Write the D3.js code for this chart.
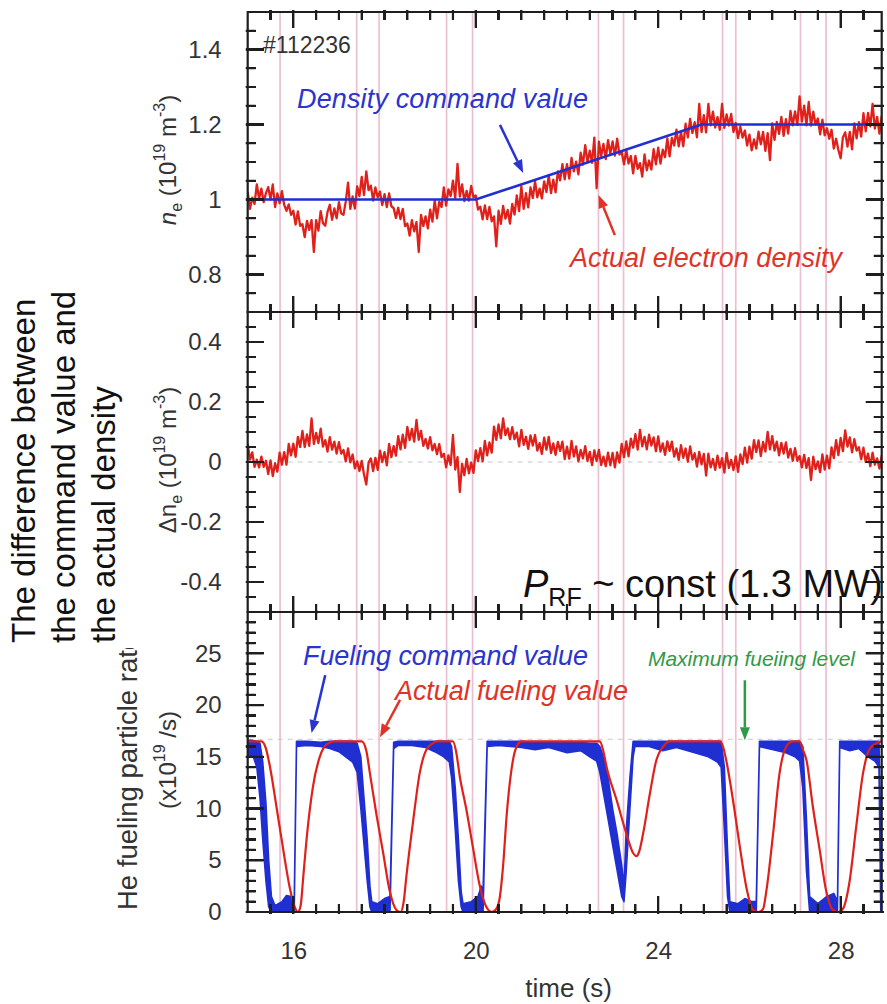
<!DOCTYPE html>
<html><head><meta charset="utf-8">
<script src="https://cdn.jsdelivr.net/npm/d3@7"></script>
<style>
body{margin:0;background:#fff}
#wrap{position:relative;width:887px;height:1004px}
svg{display:block;position:absolute;left:0;top:0}
.tk{position:absolute;background:#1e1e1e}
text{font-family:"Liberation Sans",Arial,Helvetica,sans-serif}
</style>
</head><body>
<div id="wrap"><svg id="c" width="887" height="1004" xmlns="http://www.w3.org/2000/svg"></svg></div>
<script>
// ---------------- data ----------------
const T0 = 15, DT = 0.05;            // sampling of the noisy traces (s)
// actual electron density n_e (1e19 m^-3), 15.00 .. 28.95 s
const neActual = [
 1.02,0.975,1.005,0.988,1.04,1.002,1.029,0.993,1.017,1.033,1.0,1.04,0.98,1.016,0.99,1.022,0.986,0.97,0.987,0.959,
 0.97,0.933,0.968,0.93,0.934,0.9,0.943,0.919,0.945,0.86,0.945,0.917,0.969,0.937,0.93,0.967,0.986,0.946,0.976,0.95,
 0.993,0.963,0.959,0.995,1.045,0.975,1.008,0.976,1.035,1.009,1.06,1.012,1.075,1.025,1.037,0.997,1.032,1.006,1.021,0.985,
 1.014,0.98,1.016,0.982,0.977,0.951,0.978,0.948,0.975,0.929,0.936,0.904,0.945,0.915,0.94,0.86,0.959,0.929,0.955,0.923,
 0.973,0.941,0.998,0.95,0.994,0.98,1.032,0.984,1.027,1.009,1.05,1.004,1.095,1.008,1.04,0.996,1.023,0.997,1.036,1.006,
 1.011,0.973,0.981,0.947,0.984,0.948,0.98,0.942,0.955,0.875,0.97,0.935,0.983,0.949,0.972,0.936,0.988,0.96,1.011,0.969,
 1.035,0.975,1.017,0.979,1.032,1.004,1.048,1.006,1.029,1.003,1.048,1.02,1.065,1.017,1.053,1.019,1.075,1.051,1.094,1.054,
 1.094,1.056,1.111,1.075,1.101,1.067,1.125,1.093,1.145,1.099,1.13,1.098,1.165,1.03,1.154,1.116,1.148,1.108,1.158,1.122,
 1.155,1.117,1.162,1.12,1.126,1.094,1.132,1.096,1.116,1.07,1.116,1.082,1.097,1.061,1.12,1.078,1.104,1.08,1.134,1.094,
 1.138,1.096,1.133,1.113,1.163,1.115,1.164,1.144,1.186,1.142,1.18,1.142,1.202,1.166,1.215,1.177,1.206,1.166,1.255,1.18,
 1.225,1.179,1.255,1.198,1.234,1.192,1.22,1.186,1.255,1.191,1.227,1.197,1.228,1.18,1.204,1.164,1.195,1.165,1.184,1.144,
 1.173,1.131,1.16,1.136,1.181,1.147,1.18,1.13,1.177,1.105,1.203,1.159,1.207,1.175,1.22,1.17,1.214,1.176,1.236,1.198,
 1.235,1.199,1.275,1.208,1.25,1.198,1.26,1.197,1.234,1.2,1.216,1.174,1.213,1.171,1.19,1.162,1.186,1.136,1.162,1.132,
 1.11,1.166,1.179,1.141,1.18,1.134,1.203,1.163,1.206,1.168,1.23,1.182,1.231,1.195,1.255,1.189,1.22,1.176,1.222,1.186
];
// density command value
const neCmdT = [15, 20.0, 24.95, 28.9];
const neCmdV = [1.0, 1.0, 1.2, 1.2];
// difference command - actual, 15.00 .. 28.95 s
const dneActual = [
 0.06,0.008,0.032,-0.016,0.008,-0.018,0.018,-0.016,0.004,-0.04,0.005,-0.047,-0.004,-0.032,0.031,-0.009,0.033,-0.009,0.06,0.022,
 0.061,0.017,0.084,0.05,0.104,0.05,0.092,0.054,0.145,0.06,0.097,0.063,0.111,0.051,0.073,0.035,0.083,0.041,0.068,0.028,
 0.066,0.028,0.04,0.002,0.045,-0.001,0.025,-0.021,0.002,-0.03,0.004,-0.042,-0.075,-0.002,0.012,-0.03,0.014,-0.026,0.038,0.0,
 0.033,-0.011,0.06,0.016,0.053,0.021,0.086,0.042,0.091,0.047,0.117,0.073,0.11,0.068,0.14,0.074,0.104,0.054,0.077,0.045,
 0.083,0.039,0.06,0.026,0.06,0.016,0.028,-0.018,0.022,-0.01,0.09,-0.025,0.016,-0.1,-0.006,-0.044,0.01,-0.038,-0.002,-0.036,
 0.039,0.003,0.046,0.002,0.07,0.022,0.065,0.031,0.118,0.074,0.125,0.079,0.145,0.09,0.112,0.076,0.116,0.076,0.098,0.052,
 0.107,0.057,0.084,0.044,0.089,0.055,0.09,0.038,0.063,0.027,0.081,0.041,0.084,0.03,0.062,0.024,0.067,0.037,0.068,0.01,
 0.051,0.011,0.07,0.018,0.052,0.002,0.04,0.012,0.053,0.003,0.034,-0.01,0.039,0.003,0.04,-0.01,0.018,-0.014,0.031,-0.011,
 0.03,-0.018,0.032,-0.002,0.06,0.016,0.069,0.019,0.078,0.048,0.093,0.041,0.107,0.052,0.084,0.042,0.091,0.055,0.082,0.036,
 0.085,0.035,0.062,0.024,0.069,0.037,0.068,0.018,0.045,0.007,0.056,0.014,0.045,0.001,0.052,0.008,0.029,-0.015,0.034,-0.008,
 0.027,-0.045,0.028,-0.018,0.01,-0.026,0.021,-0.019,0.013,-0.035,0.03,-0.02,0.007,-0.027,0.019,-0.033,0.025,-0.007,0.048,-0.002,
 0.051,0.011,0.073,0.033,0.072,0.02,0.067,0.035,0.1,0.042,0.086,0.038,0.068,0.022,0.064,0.028,0.065,0.015,0.044,0.004,
 0.046,0.004,0.02,-0.018,0.024,-0.02,0.013,-0.06,0.018,-0.024,0.002,-0.034,0.025,-0.025,0.021,-0.021,0.049,0.013,0.073,0.023,
 0.08,0.036,0.105,0.051,0.082,0.032,0.076,0.038,0.049,0.009,0.048,0.0,0.028,-0.014,0.031,-0.009,0.012,-0.022,0.02,-0.055
];
// fueling command value (x1e19 /s): time, lower and upper edge of the noisy trace
const fuelCmdT  = [15.00,15.10,15.20,15.27,15.33,15.40,15.46,15.52,15.60,15.75,15.85,15.95,16.02,16.07,16.30,16.60,16.80,17.00,17.15,17.30,17.40,17.48,17.55,17.62,17.68,17.72,17.85,18.00,18.12,18.20,18.30,18.60,18.90,19.10,19.30,19.42,19.47,19.55,19.62,19.68,19.72,19.90,20.05,20.12,20.16,20.25,20.50,21.00,21.30,21.60,22.00,22.30,22.50,22.65,22.72,22.80,22.90,23.00,23.10,23.20,23.25,23.30,23.38,23.45,23.49,23.80,24.10,24.40,24.80,25.10,25.30,25.38,25.45,25.52,25.57,25.75,25.90,26.05,26.15,26.22,26.50,26.80,27.00,27.10,27.17,27.25,27.32,27.50,27.70,27.85,27.93,27.98,28.20,28.40,28.60,28.75,28.84,28.88,28.90];
const fuelCmdLo = [15.0,15.3,14.0,11.0,7.0,3.0,0.5,0,0,0,0,0,0,16.0,16.1,16.0,15.8,15.5,15.0,14.5,13.5,10.0,6.5,3.0,0.5,0,0,0,0,15.8,16.1,16.1,15.9,15.5,15.0,14.5,13.0,8.0,3.0,0.5,0,0,0,0,0,16.0,16.1,15.9,15.7,15.9,15.4,15.6,15.0,14.6,13.5,11.5,9.0,6.5,4.0,1.5,1.0,4.0,10.0,15.0,16.0,16.0,15.6,15.9,15.4,15.0,14.5,14.0,8.0,1.5,0,0,0,0,0,16.0,15.7,15.4,15.0,14.6,12.0,4.0,0,0,0,0,0,15.9,15.6,15.8,15.0,14.6,14.0,0,0];
const fuelCmdHi = [16.6,16.6,16.5,16.3,14.5,10.5,5.0,1.5,0.6,1.0,1.6,1.5,1.0,16.5,16.5,16.4,16.5,16.5,16.5,16.5,16.3,15.0,11.0,7.0,2.5,1.0,0.8,1.3,1.5,16.4,16.5,16.5,16.5,16.5,16.5,16.5,16.0,12.0,7.0,2.0,0.8,1.0,1.5,2.5,2.0,16.5,16.5,16.5,16.4,16.4,16.4,16.4,16.3,16.3,16.0,15.0,13.0,10.0,7.5,4.5,2.5,8.0,13.0,16.5,16.5,16.5,16.5,16.5,16.5,16.5,16.5,16.5,14.0,6.0,1.0,0.8,1.3,1.0,1.0,16.5,16.5,16.5,16.5,16.5,16.0,9.0,1.5,0.8,1.5,1.8,1.0,16.5,16.5,16.5,16.5,16.5,16.5,8.0,1.0];
// actual fueling value
const fuelActT = [15.00,15.30,15.40,15.49,15.63,15.78,15.92,16.03,16.10,16.16,16.22,16.29,16.43,16.58,16.73,16.90,17.50,17.60,17.68,17.82,17.97,18.11,18.26,18.35,18.42,18.48,18.63,18.77,18.92,19.06,19.15,19.50,19.57,19.65,19.79,19.94,20.08,20.23,20.35,20.45,20.53,20.60,20.68,20.76,20.83,20.92,21.00,22.72,22.80,22.87,23.09,23.30,23.45,23.52,23.58,23.67,23.82,23.96,24.11,24.25,25.35,25.42,25.49,25.64,25.79,25.93,26.08,26.20,26.30,26.37,26.52,26.66,26.81,26.95,27.10,27.18,27.25,27.39,27.54,27.68,27.83,27.95,28.05,28.19,28.34,28.49,28.63,28.78,28.90];
const fuelActV = [16.5,16.5,15.8,14.0,10.2,6.0,2.4,0.5,0.0,0.6,3.5,7.0,12.1,15.0,16.2,16.5,16.5,15.6,13.4,9.5,5.7,2.1,0.2,0.0,1.0,3.5,8.9,13.4,15.7,16.3,16.5,16.5,15.5,13.1,10.0,6.2,2.7,0.5,0.0,0.3,1.5,4.5,9.5,13.0,15.0,16.2,16.5,16.5,15.5,14.0,10.8,7.6,5.7,5.4,5.8,7.6,11.5,14.7,16.0,16.5,16.5,16.0,14.7,10.8,6.3,2.45,0.2,0.0,0.3,2.0,7.6,13.4,16.0,16.5,16.5,15.6,14.7,10.2,6.0,2.1,0.2,0.0,0.3,2.8,8.2,13.4,15.7,16.3,16.5];
const maxFuel = 16.7;
// RF timing marks (s)
const rfTimes = [15.71,17.39,17.88,19.36,19.93,22.69,23.24,25.41,25.70,27.12,27.68];
// ticks
const xMajor = [16,20,24,28];
const topMajor = [0.8,1,1.2,1.4];
const midMajor = [-0.4,-0.2,0,0.2,0.4];
const botMajor = [0,5,10,15,20,25];

// ---------------- layout ----------------
const svg = d3.select("#c");
const L = 247.7, R = 881.7;
const P = [{t:12,b:312},{t:312,b:612},{t:612,b:912}];
const x = d3.scaleLinear().domain([15, 28.9]).range([L, R]);
const yTop = d3.scaleLinear().domain([0.7, 1.5]).range([P[0].b, P[0].t]);
const yMid = d3.scaleLinear().domain([-0.5, 0.5]).range([P[1].b, P[1].t]);
const yBot = d3.scaleLinear().domain([0, 29]).range([P[2].b, P[2].t]);

const RED = "#e0201a", BLUE = "#1f2fd2", TBLUE = "#2a34cf", TRED = "#e03328", GREEN = "#2f9a45", PINK = "#edbfd2";
const AX = "#1e1e1e";

const defs = svg.append("defs");
P.forEach((p,i)=>{
  defs.append("clipPath").attr("id","clip"+i).append("rect")
    .attr("x",L).attr("y",p.t).attr("width",R-L).attr("height",p.b-p.t);
});

// RF marks
svg.append("g").selectAll("line").data(rfTimes).join("line")
  .attr("x1",d=>x(d)).attr("x2",d=>x(d)).attr("y1",P[0].t).attr("y2",P[2].b)
  .attr("stroke",PINK).attr("stroke-width",1.7);

// reference dashed lines
svg.append("line").attr("x1",L).attr("x2",R).attr("y1",yMid(0)).attr("y2",yMid(0))
  .attr("stroke","#c8c8c8").attr("stroke-width",1).attr("stroke-dasharray","5,5");
svg.append("line").attr("x1",L).attr("x2",R).attr("y1",yBot(maxFuel)).attr("y2",yBot(maxFuel))
  .attr("stroke","#c8c8c8").attr("stroke-width",1).attr("stroke-dasharray","5,5");

// top panel data
svg.append("path").attr("clip-path","url(#clip0)")
  .attr("d", d3.line().x((d,i)=>x(T0+i*DT)).y(d=>yTop(d))(neActual))
  .attr("fill","none").attr("stroke",RED).attr("stroke-width",2.3).attr("stroke-linejoin","round");
svg.append("path").attr("clip-path","url(#clip0)")
  .attr("d", d3.line().x(d=>x(d[0])).y(d=>yTop(d[1]))(neCmdT.map((t,i)=>[t,neCmdV[i]])))
  .attr("fill","none").attr("stroke",BLUE).attr("stroke-width",2.6);

// middle panel data
svg.append("path").attr("clip-path","url(#clip1)")
  .attr("d", d3.line().x((d,i)=>x(T0+i*DT)).y(d=>yMid(d))(dneActual))
  .attr("fill","none").attr("stroke",RED).attr("stroke-width",2.3).attr("stroke-linejoin","round");

// bottom panel data
const cmd = fuelCmdT.map((t,i)=>({t, lo:fuelCmdLo[i], hi:fuelCmdHi[i]}));
svg.append("path").attr("clip-path","url(#clip2)")
  .attr("d", d3.area().x(d=>x(d.t)).y0(d=>yBot(d.lo)).y1(d=>yBot(d.hi))(cmd))
  .attr("fill",BLUE).attr("stroke",BLUE).attr("stroke-width",1.6).attr("stroke-linejoin","round");
svg.append("path").attr("clip-path","url(#clip2)")
  .attr("d", d3.line().curve(d3.curveMonotoneX).x(d=>x(d[0])).y(d=>yBot(d[1]))(fuelActT.map((t,i)=>[t,fuelActV[i]])))
  .attr("fill","none").attr("stroke",RED).attr("stroke-width",2.2);

// ---------------- axes: frame + ticks ----------------
function minorVals(lo, hi, step, majors){
  return d3.range(Math.round(lo/step), Math.round(hi/step)+1).map(k=>+(k*step).toFixed(4))
    .filter(v=>v>lo+1e-9 && v<hi-1e-9 && !majors.some(m=>Math.abs(m-v)<1e-6));
}
const xMinor = minorVals(15, 28.9, 0.5, xMajor);
const yDefs = [
  {y:yTop, maj:topMajor, min:minorVals(0.7,1.5,0.05,topMajor), fmt:d=>d===1?"1":d.toFixed(1)},
  {y:yMid, maj:midMajor, min:minorVals(-0.5,0.5,0.05,midMajor), fmt:d=>d===0?"0":d.toFixed(1)},
  {y:yBot, maj:botMajor, min:minorVals(0,29,1,botMajor), fmt:d=>String(d)}
];
const TW = 2.2;
const tickBoxes = [];
P.forEach((p,i)=>{
  const Y = yDefs[i];
  const pth = d3.path();
  pth.rect(L, p.t, R-L, p.b-p.t);
  [[Y.maj,16],[Y.min,8]].forEach(([vals,len])=>vals.forEach(v=>{
    const yy = Y.y(v);
    pth.moveTo(L-2, yy); pth.lineTo(L+len, yy);
    pth.moveTo(R+2, yy); pth.lineTo(R-len, yy);
    tickBoxes.push({l:L-2, t:yy-TW/2, w:len+2, h:TW});
    tickBoxes.push({l:R-len, t:yy-TW/2, w:len+2, h:TW});
  }));
  [[xMajor,16],[xMinor,8]].forEach(([vals,len])=>vals.forEach(v=>{
    const xx = x(v);
    pth.moveTo(xx, p.t-2); pth.lineTo(xx, p.t+len);
    pth.moveTo(xx, p.b+2); pth.lineTo(xx, p.b-len);
    tickBoxes.push({l:xx-TW/2, t:p.t-2, w:TW, h:len+2});
    tickBoxes.push({l:xx-TW/2, t:p.b-len, w:TW, h:len+2});
  }));
  svg.append("path").attr("class","frame").attr("d", pth.toString())
    .attr("fill","none").attr("stroke",AX).attr("stroke-width",2.2);
  const ga = svg.append("g").attr("transform",`translate(${L},0)`)
    .call(d3.axisLeft(Y.y).tickValues(Y.maj).tickSize(0).tickPadding(26).tickFormat(Y.fmt));
  ga.select(".domain").remove();
  ga.selectAll("text").attr("font-size",24).attr("fill","#333").attr("font-family","Liberation Sans, Arial, sans-serif");
});
const gx = svg.append("g").attr("transform",`translate(0,${P[2].b})`)
  .call(d3.axisBottom(x).tickValues(xMajor).tickSize(0).tickPadding(30).tickFormat(d=>String(d)));
gx.select(".domain").remove();
gx.selectAll("text").attr("font-size",24).attr("fill","#333").attr("font-family","Liberation Sans, Arial, sans-serif");

// x label
svg.append("text").attr("x",(L+R)/2+4).attr("y",997).attr("text-anchor","middle")
  .attr("font-size",26).attr("fill","#333").text("time (s)");

// y labels
function ylab(cx, cy, parts, fs, anchor){
  const t = svg.append("text").attr("transform",`translate(${cx},${cy}) rotate(-90)`)
    .attr("text-anchor",anchor||"middle").attr("font-size",fs).attr("fill","#333");
  parts.forEach(p=>{
    const s = t.append("tspan").text(p.s);
    if(p.it) s.attr("font-style","italic");
    if(p.fs) s.attr("font-size",p.fs);
    if(p.dy) s.attr("dy",p.dy);
  });
}
ylab(176,160,[{s:"n",it:1},{s:"e",fs:16,dy:6},{s:" (10",dy:-6},{s:"19",fs:16,dy:-11},{s:"  m",dy:11},{s:"-3",fs:16,dy:-11},{s:")",dy:11}], 24);
ylab(176,460,[{s:"\u0394n"},{s:"e",fs:16,dy:6},{s:" (10",dy:-6},{s:"19",fs:16,dy:-11},{s:"  m",dy:11},{s:"-3",fs:16,dy:-11},{s:")",dy:11}], 24);
ylab(137,910,[{s:"He fueling particle rate"}], 27.5, "start");
ylab(176,760,[{s:"(x10"},{s:"19",fs:16,dy:-11},{s:" /s)",dy:11}], 24);

// overlay annotation box (left)
svg.append("rect").attr("x",0).attr("y",285).attr("width",142).attr("height",363).attr("fill","#fff");
const ov = [{s:"The difference between",bx:35},{s:"the command value and",bx:75},{s:"the actual density",bx:115}];
ov.forEach(o=>{
  svg.append("text").attr("transform",`translate(${o.bx},643) rotate(-90)`)
    .attr("font-size",33).attr("fill","#111").text(o.s);
});

// annotations
function note(txt, xx, yy, color, fs, len){
  const t = svg.append("text").attr("x",xx).attr("y",yy).attr("fill",color)
    .attr("font-size",fs).attr("font-style","italic").text(txt);
  if(len) t.attr("textLength",len);
  return t;
}
note("Density command value", 297, 108, TBLUE, 27, 291);
note("Actual electron density", 570, 267, TRED, 27, 272);
note("Fueling command value", 303, 665, TBLUE, 27, 285);
note("Actual fueling value", 395, 700, TRED, 27, 233);
note("Maximum fueiing level", 648, 666, GREEN, 21, 207);
svg.append("text").attr("x",263).attr("y",53).attr("font-size",23).attr("fill","#333").text("#112236");

// P_RF text
const prf = svg.append("text").attr("x",523).attr("y",597).attr("font-size",38)
  .attr("font-family","Open Sans, Noto Sans, sans-serif").attr("fill","#111");
prf.append("tspan").attr("font-style","italic").text("P");
prf.append("tspan").attr("font-size",25).attr("dy",9).text("RF");
prf.append("tspan").attr("dy",-9).text(" ~ const (1.3 MW)");

// arrows (data coordinates)
function arrow(ys, t1, v1, t2, v2, color){
  const x1=x(t1), y1=ys(v1), x2=x(t2), y2=ys(v2);
  const ang = Math.atan2(y2-y1, x2-x1), hl=13, hw=5;
  const bx = x2 - hl*Math.cos(ang), by = y2 - hl*Math.sin(ang);
  svg.append("line").attr("x1",x1).attr("y1",y1).attr("x2",bx).attr("y2",by)
    .attr("stroke",color).attr("stroke-width",2.5);
  svg.append("path").attr("d",`M${x2},${y2}L${bx+hw*Math.sin(ang)},${by-hw*Math.cos(ang)}L${bx-hw*Math.sin(ang)},${by+hw*Math.cos(ang)}Z`)
    .attr("fill",color);
}
arrow(yTop, 20.53, 1.199, 21.04, 1.071, TBLUE);
arrow(yTop, 23.05, 0.905, 22.69, 1.012, TRED);
arrow(yBot, 16.70, 22.9, 16.40, 17.3, TBLUE);
arrow(yBot, 18.34, 20.5, 17.90, 16.9, TRED);
arrow(yBot, 25.90, 22.4, 25.90, 16.6, GREEN);

// HTML overlay of the same tick marks (positions from the d3 scales)
d3.select("#wrap").selectAll("div.tk").data(tickBoxes).join("div").attr("class","tk")
  .style("left",d=>d.l+"px").style("top",d=>d.t+"px")
  .style("width",d=>d.w+"px").style("height",d=>d.h+"px");
</script>
</body></html>
